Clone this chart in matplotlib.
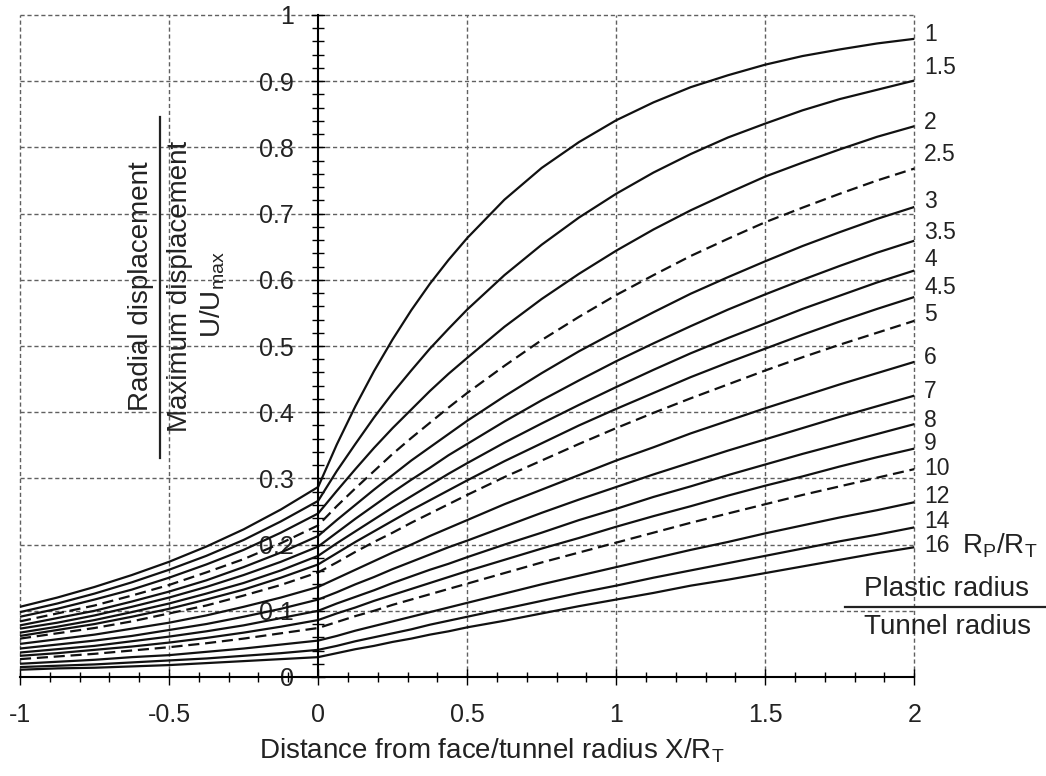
import matplotlib
matplotlib.use("Agg")
import matplotlib.pyplot as plt
from matplotlib.lines import Line2D
import numpy as np

plt.rcParams['font.family'] = ['Liberation Sans', 'DejaVu Sans']
plt.rcParams['mathtext.fontset'] = 'custom'
plt.rcParams['mathtext.rm'] = 'Liberation Sans'
plt.rcParams['mathtext.it'] = 'Liberation Sans:italic'
plt.rcParams['axes.unicode_minus'] = False

# ---------------- data ----------------
x_pos = [-1, -0.875, -0.75, -0.625, -0.5, -0.375, -0.25, -0.125, 0,
         0.0625, 0.125, 0.1875, 0.25, 0.3125, 0.375, 0.4375, 0.5,
         0.625, 0.75, 0.875, 1, 1.125, 1.25, 1.375, 1.5, 1.625, 1.75,
         1.875, 2]

ratios = ['1', '1.5', '2', '2.5', '3', '3.5', '4', '4.5', '5', '6', '7',
          '8', '9', '10', '12', '14', '16']
dashed_ratios = ['2.5', '5', '10']

u_1   = [0.106, 0.120, 0.136, 0.154, 0.174, 0.197, 0.223, 0.253, 0.287,
         0.351, 0.409, 0.462, 0.510, 0.554, 0.594, 0.630, 0.663, 0.721, 0.769, 0.808,
         0.841, 0.868, 0.891, 0.909, 0.925, 0.938, 0.948, 0.957, 0.964]
u_1_5 = [0.098, 0.111, 0.126, 0.143, 0.162, 0.183, 0.207, 0.235, 0.266,
         0.311, 0.352, 0.392, 0.429, 0.463, 0.496, 0.526, 0.555, 0.607, 0.653, 0.694,
         0.730, 0.762, 0.790, 0.815, 0.836, 0.856, 0.873, 0.887, 0.901]
u_2   = [0.091, 0.103, 0.117, 0.132, 0.150, 0.170, 0.192, 0.218, 0.247,
         0.281, 0.314, 0.346, 0.376, 0.404, 0.432, 0.458, 0.482, 0.529, 0.571, 0.609,
         0.644, 0.676, 0.705, 0.731, 0.756, 0.777, 0.797, 0.816, 0.832]
u_2_5 = [0.084, 0.096, 0.108, 0.123, 0.139, 0.158, 0.178, 0.202, 0.229,
         0.258, 0.285, 0.311, 0.337, 0.361, 0.384, 0.407, 0.429, 0.470, 0.509, 0.544,
         0.577, 0.607, 0.636, 0.662, 0.687, 0.709, 0.730, 0.750, 0.768]
u_3   = [0.078, 0.089, 0.100, 0.114, 0.129, 0.146, 0.166, 0.188, 0.213,
         0.237, 0.260, 0.283, 0.305, 0.327, 0.347, 0.367, 0.387, 0.424, 0.459, 0.492,
         0.522, 0.551, 0.579, 0.604, 0.628, 0.651, 0.672, 0.692, 0.710]
u_3_5 = [0.073, 0.082, 0.093, 0.106, 0.120, 0.136, 0.154, 0.174, 0.197,
         0.218, 0.239, 0.259, 0.279, 0.298, 0.316, 0.335, 0.352, 0.386, 0.418, 0.448,
         0.477, 0.504, 0.530, 0.555, 0.578, 0.600, 0.621, 0.641, 0.659]
u_4   = [0.067, 0.076, 0.086, 0.098, 0.111, 0.126, 0.142, 0.161, 0.183,
         0.202, 0.220, 0.238, 0.256, 0.273, 0.290, 0.307, 0.323, 0.354, 0.383, 0.411,
         0.438, 0.464, 0.489, 0.512, 0.534, 0.556, 0.576, 0.596, 0.614]
u_4_5 = [0.062, 0.071, 0.080, 0.091, 0.103, 0.117, 0.132, 0.150, 0.170,
         0.187, 0.204, 0.220, 0.236, 0.252, 0.267, 0.282, 0.297, 0.326, 0.353, 0.380,
         0.405, 0.429, 0.453, 0.475, 0.496, 0.517, 0.537, 0.556, 0.574]
u_5   = [0.058, 0.066, 0.074, 0.084, 0.096, 0.108, 0.123, 0.139, 0.158,
         0.173, 0.189, 0.204, 0.218, 0.233, 0.247, 0.261, 0.275, 0.302, 0.327, 0.352,
         0.376, 0.399, 0.421, 0.442, 0.463, 0.483, 0.502, 0.520, 0.538]
u_6   = [0.050, 0.057, 0.064, 0.073, 0.082, 0.093, 0.106, 0.120, 0.136,
         0.149, 0.162, 0.175, 0.188, 0.200, 0.213, 0.225, 0.237, 0.261, 0.283, 0.305,
         0.327, 0.347, 0.368, 0.387, 0.406, 0.424, 0.442, 0.459, 0.476]
u_7   = [0.043, 0.049, 0.055, 0.062, 0.071, 0.080, 0.091, 0.103, 0.117,
         0.128, 0.140, 0.151, 0.163, 0.174, 0.185, 0.196, 0.206, 0.227, 0.248, 0.268,
         0.287, 0.306, 0.324, 0.342, 0.359, 0.376, 0.393, 0.409, 0.425]
u_8   = [0.037, 0.042, 0.047, 0.054, 0.061, 0.069, 0.078, 0.089, 0.100,
         0.111, 0.121, 0.131, 0.142, 0.152, 0.162, 0.171, 0.181, 0.200, 0.218, 0.237,
         0.254, 0.272, 0.288, 0.305, 0.321, 0.337, 0.352, 0.367, 0.382]
u_9   = [0.032, 0.036, 0.041, 0.046, 0.052, 0.059, 0.067, 0.076, 0.086,
         0.096, 0.105, 0.115, 0.124, 0.133, 0.142, 0.151, 0.160, 0.177, 0.194, 0.210,
         0.227, 0.243, 0.258, 0.274, 0.289, 0.303, 0.318, 0.332, 0.345]
u_10  = [0.027, 0.031, 0.035, 0.040, 0.045, 0.051, 0.058, 0.066, 0.074,
         0.083, 0.092, 0.100, 0.109, 0.117, 0.125, 0.133, 0.141, 0.157, 0.173, 0.188,
         0.203, 0.218, 0.233, 0.247, 0.261, 0.275, 0.288, 0.301, 0.314]
u_12  = [0.020, 0.023, 0.026, 0.030, 0.033, 0.038, 0.043, 0.049, 0.055,
         0.062, 0.070, 0.077, 0.084, 0.091, 0.098, 0.105, 0.112, 0.126, 0.140, 0.153,
         0.166, 0.179, 0.192, 0.204, 0.217, 0.229, 0.241, 0.252, 0.264]
u_14  = [0.015, 0.017, 0.019, 0.022, 0.025, 0.028, 0.032, 0.036, 0.041,
         0.047, 0.054, 0.060, 0.066, 0.072, 0.079, 0.085, 0.091, 0.103, 0.115, 0.127,
         0.138, 0.150, 0.161, 0.172, 0.183, 0.194, 0.205, 0.215, 0.226]
u_16  = [0.011, 0.013, 0.014, 0.016, 0.018, 0.021, 0.024, 0.027, 0.030,
         0.036, 0.042, 0.047, 0.053, 0.058, 0.064, 0.069, 0.075, 0.085, 0.096, 0.107,
         0.117, 0.127, 0.138, 0.147, 0.157, 0.167, 0.177, 0.187, 0.196]

curves = [u_1, u_1_5, u_2, u_2_5, u_3, u_3_5, u_4, u_4_5, u_5, u_6, u_7,
          u_8, u_9, u_10, u_12, u_14, u_16]

x_ticks = [-1, -0.5, 0, 0.5, 1, 1.5, 2]
x_tick_labels = ['-1', '-0.5', '0', '0.5', '1', '1.5', '2']
y_ticks = [0, 0.1, 0.2, 0.3, 0.4, 0.5, 0.6, 0.7, 0.8, 0.9, 1]
y_tick_labels = ['0', '0.1', '0.2', '0.3', '0.4', '0.5', '0.6', '0.7', '0.8', '0.9', '1']

# label placement (layout only)
label_y = [0.971, 0.921, 0.838, 0.789, 0.719, 0.672, 0.630, 0.588, 0.547,
           0.483, 0.432, 0.387, 0.352, 0.315, 0.272, 0.235, 0.198]

# ---------------- figure ----------------
W, H = 1046, 776
TXT = '#222222'
fig = plt.figure(figsize=(W / 100, H / 100), dpi=100)
ax = fig.add_axes([20 / W, 99 / H, 894.3 / W, 662 / H])
ax.set_xlim(-1, 2)
ax.set_ylim(0, 1)

def fpx(px, py):
    return px / W, 1 - py / H

grid_kw = dict(color='#606060', lw=1.0, ls=(0, (3, 2)), zorder=1, clip_on=False)
for xv in x_ticks:
    if xv != 0:
        ax.axvline(xv, **grid_kw)
for yv in y_ticks:
    if yv != 0:
        ax.axhline(yv, **grid_kw)

for name, vals in zip(ratios, curves):
    ls = (0, (5, 2.6)) if name in dashed_ratios else '-'
    ax.plot(x_pos, vals, color='#111111', lw=1.6, ls=ls, zorder=3,
            solid_capstyle='butt', solid_joinstyle='round', clip_on=False)

for name, ly in zip(ratios, label_y):
    ax.text(2.033, ly, name, fontsize=16.5, ha='left', va='center', color=TXT)

# spines
for s in ['top', 'right']:
    ax.spines[s].set_visible(False)
ax.spines['left'].set_position(('data', 0))
ax.spines['left'].set_linewidth(1.5)
ax.spines['bottom'].set_linewidth(1.5)
ax.spines['left'].set_zorder(4)
ax.spines['bottom'].set_zorder(4)

ax.set_xticks(x_ticks)
ax.set_xticklabels(x_tick_labels)
ax.set_xticks(np.arange(-1, 2.0001, 0.1), minor=True)
ax.set_yticks(y_ticks)
ax.set_yticklabels(y_tick_labels)
ax.set_yticks(np.arange(0, 1.0001, 0.02), minor=True)

ax.tick_params(axis='x', which='major', direction='inout', length=11.5,
               width=1.0, pad=13, labelsize=18, labelcolor=TXT)
ax.tick_params(axis='x', which='minor', direction='inout', length=7,
               width=1.0)
ax.tick_params(axis='y', which='major', direction='inout', length=10,
               width=1.0, pad=12.5, labelsize=18, labelcolor=TXT)
ax.tick_params(axis='y', which='minor', direction='inout', length=8.5,
               width=1.0)

# axis titles
fig.text(*fpx(492, 751), r'Distance from face/tunnel radius X/R$_\mathrm{T}$',
         fontsize=20, ha='center', va='center', color=TXT)

fig.text(*fpx(141, 286), 'Radial displacement', rotation=90, fontsize=20,
         ha='center', va='center', color=TXT)
fig.text(*fpx(180, 286), 'Maximum displacement', rotation=90, fontsize=20,
         ha='center', va='center', color=TXT)
fig.text(*fpx(213, 295), r'U/U$_\mathrm{max}$', rotation=90, fontsize=20,
         ha='center', va='center', color=TXT)
x0, y0 = fpx(160, 117)
x1, y1 = fpx(160, 458)
fig.add_artist(Line2D([x0, x1], [y0, y1], color=TXT, lw=1.6,
                      transform=fig.transFigure))

fig.text(*fpx(962, 546), r'R$_\mathrm{P}$/R$_\mathrm{T}$', fontsize=20,
         ha='left', va='center', color=TXT)
fig.text(*fpx(947, 589), 'Plastic radius', fontsize=20, ha='center',
         va='center', color=TXT)
fig.text(*fpx(947, 627), 'Tunnel radius', fontsize=20, ha='center',
         va='center', color=TXT)
x0, y0 = fpx(845, 607)
x1, y1 = fpx(1046, 607)
fig.add_artist(Line2D([x0, x1], [y0, y1], color=TXT, lw=1.6,
                      transform=fig.transFigure))

fig.savefig('out.png', dpi=100)
